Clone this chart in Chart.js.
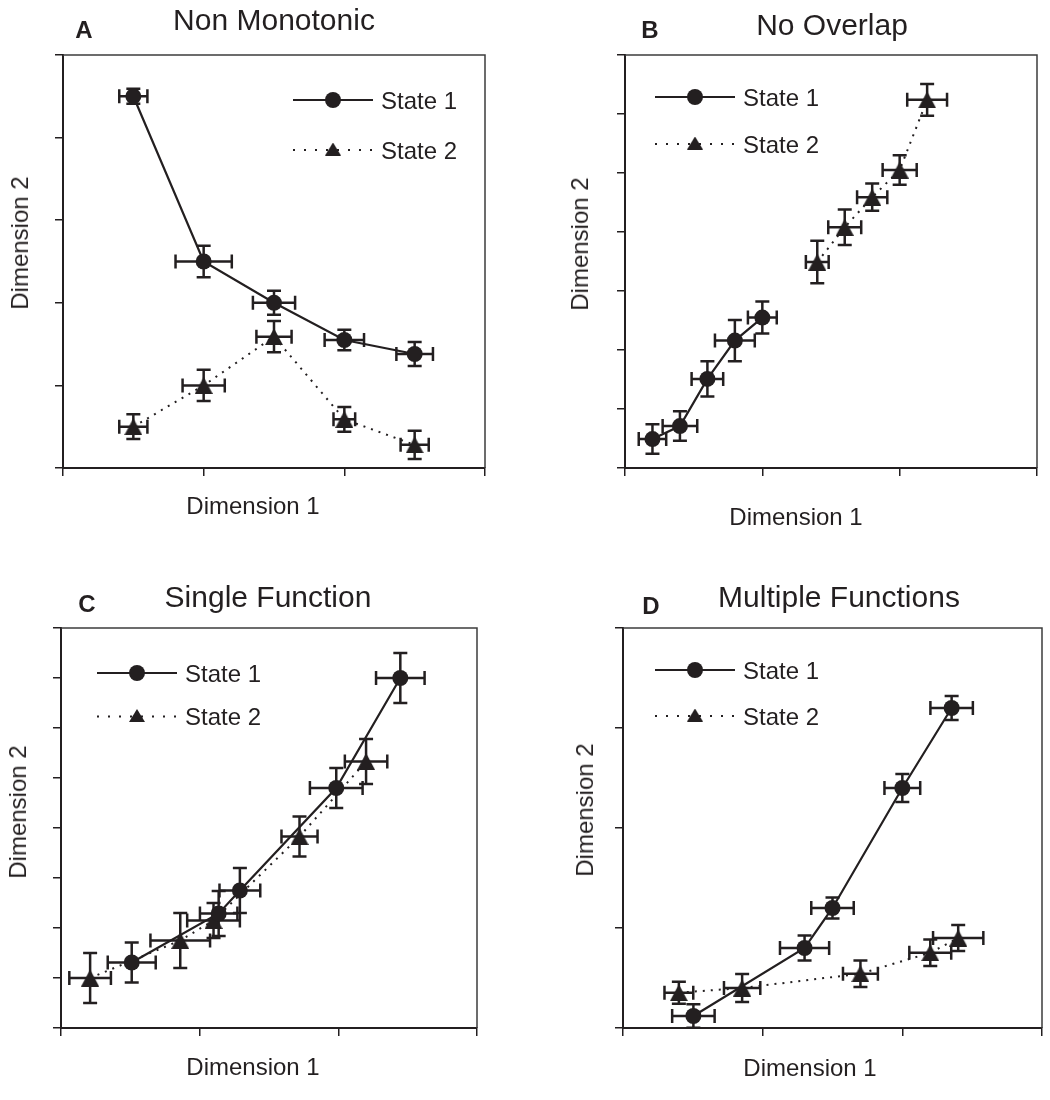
<!DOCTYPE html>
<html>
<head>
<meta charset="utf-8">
<script src="https://cdn.jsdelivr.net/npm/chart.js@4.4.0/dist/chart.umd.min.js"></script>
<style>
  body { margin: 0; background: #fff; width: 1050px; height: 1100px; position: relative; overflow: hidden;
         font-family: "Liberation Sans", Arial, sans-serif; color: #231f20; }
  .panel { position: absolute; width: 525px; height: 550px; }
  .txt { position: absolute; line-height: 1; white-space: nowrap; transform: translate(-50%, -50%); }
  .title { font-size: 30px; }
  .letter { font-size: 24px; font-weight: bold; }
  .axis { font-size: 24px; }
  .rot { transform: translate(-50%, -50%) rotate(-90deg); }
</style>
</head>
<body>
<div class="panel" style="left:0;top:0"><canvas id="chartA" width="525" height="550"></canvas></div>
<div class="panel" style="left:525px;top:0"><canvas id="chartB" width="525" height="550"></canvas></div>
<div class="panel" style="left:0;top:550px"><canvas id="chartC" width="525" height="550"></canvas></div>
<div class="panel" style="left:525px;top:550px"><canvas id="chartD" width="525" height="550"></canvas></div>

<div class="txt letter" style="left:84px;top:30px">A</div>
<div class="txt title" style="left:274px;top:20px">Non Monotonic</div>
<div class="txt letter" style="left:650px;top:30px">B</div>
<div class="txt title" style="left:832px;top:25px">No Overlap</div>
<div class="txt letter" style="left:87px;top:604px">C</div>
<div class="txt title" style="left:268px;top:597px">Single Function</div>
<div class="txt letter" style="left:651px;top:606px">D</div>
<div class="txt title" style="left:839px;top:597px">Multiple Functions</div>

<div class="txt axis" style="left:253px;top:506px">Dimension 1</div>
<div class="txt axis" style="left:796px;top:517px">Dimension 1</div>
<div class="txt axis" style="left:253px;top:1067px">Dimension 1</div>
<div class="txt axis" style="left:810px;top:1068px">Dimension 1</div>
<div class="txt axis rot" style="left:20px;top:243px">Dimension 2</div>
<div class="txt axis rot" style="left:580px;top:244px">Dimension 2</div>
<div class="txt axis rot" style="left:18px;top:812px">Dimension 2</div>
<div class="txt axis rot" style="left:585px;top:810px">Dimension 2</div>

<script>
// ---- data (axis units: x 0-3, y 0-ymax) ----
const seriesNames = ["State 1", "State 2"];

// A  Non Monotonic
const aState1X    = [0.5, 1.0, 1.5, 2.0, 2.5];
const aState1Y    = [4.5, 2.5, 2.0, 1.55, 1.38];
const aState1XErr = [0.10, 0.20, 0.15, 0.14, 0.13];
const aState1YErr = [0.09, 0.19, 0.145, 0.125, 0.145];
const aState2X    = [0.5, 1.0, 1.5, 2.0, 2.5];
const aState2Y    = [0.5, 1.0, 1.59, 0.59, 0.28];
const aState2XErr = [0.10, 0.15, 0.125, 0.077, 0.10];
const aState2YErr = [0.15, 0.19, 0.19, 0.15, 0.17];

// B  No Overlap
const bState1X    = [0.2, 0.4, 0.6, 0.8, 1.0];
const bState1Y    = [0.49, 0.71, 1.51, 2.16, 2.55];
const bState1XErr = [0.10, 0.126, 0.115, 0.145, 0.105];
const bState1YErr = [0.25, 0.25, 0.30, 0.35, 0.27];
const bState2X    = [1.4, 1.6, 1.8, 2.0, 2.2];
const bState2Y    = [3.49, 4.08, 4.59, 5.05, 6.24];
const bState2XErr = [0.083, 0.12, 0.11, 0.124, 0.145];
const bState2YErr = [0.36, 0.30, 0.23, 0.25, 0.27];

// C  Single Function
const cState1X    = [0.51, 1.137, 1.29, 1.985, 2.447];
const cState1Y    = [1.31, 2.29, 2.75, 4.8, 7.0];
const cState1XErr = [0.173, 0.135, 0.147, 0.19, 0.175];
const cState1YErr = [0.40, 0.45, 0.45, 0.40, 0.50];
const cState2X    = [0.21, 0.86, 1.10, 1.72, 2.2];
const cState2Y    = [1.0, 1.75, 2.15, 3.83, 5.33];
const cState2XErr = [0.15, 0.215, 0.19, 0.13, 0.153];
const cState2YErr = [0.5, 0.55, 0.35, 0.40, 0.45];

// D  Multiple Functions
const dState1X    = [0.504, 1.30, 1.50, 2.0, 2.353];
const dState1Y    = [0.12, 0.80, 1.20, 2.4, 3.2];
const dState1XErr = [0.152, 0.176, 0.152, 0.128, 0.152];
const dState1YErr = [0.117, 0.125, 0.105, 0.14, 0.12];
const dState2X    = [0.40, 0.853, 1.70, 2.2, 2.4];
const dState2Y    = [0.353, 0.40, 0.543, 0.753, 0.9];
const dState2XErr = [0.103, 0.13, 0.125, 0.15, 0.18];
const dState2YErr = [0.11, 0.14, 0.133, 0.133, 0.13];

const xMax = 3;
const yMax = { A: 5, B: 7, C: 8, D: 4 };

const INK = '#231f20';

function makeTriangle(w, h) {
  const c = document.createElement('canvas');
  c.width = w; c.height = h;
  const g = c.getContext('2d');
  g.fillStyle = INK;
  g.beginPath();
  g.moveTo(w / 2, 0);
  g.lineTo(w, h);
  g.lineTo(0, h);
  g.closePath();
  g.fill();
  return c;
}
const triMark = makeTriangle(18, 17);
const triLegend = makeTriangle(16, 13);

function points(xs, ys, exs, eys) {
  return xs.map((x, i) => ({ x: x, y: ys[i], xErr: exs[i], yErr: eys[i] }));
}

// error bars drawn through the chart scales
const errorBars = {
  id: 'errorBars',
  beforeDatasetsDraw(chart) {
    const ctx = chart.ctx, xs = chart.scales.x, ys = chart.scales.y;
    const cap = 7;
    ctx.save();
    ctx.strokeStyle = INK;
    ctx.lineWidth = 2.5;
    chart.data.datasets.forEach(ds => {
      ds.data.forEach(p => {
        const px = xs.getPixelForValue(p.x), py = ys.getPixelForValue(p.y);
        const x0 = xs.getPixelForValue(p.x - p.xErr), x1 = xs.getPixelForValue(p.x + p.xErr);
        const y0 = ys.getPixelForValue(p.y - p.yErr), y1 = ys.getPixelForValue(p.y + p.yErr);
        ctx.beginPath();
        ctx.moveTo(x0, py); ctx.lineTo(x1, py);
        ctx.moveTo(x0, py - cap); ctx.lineTo(x0, py + cap);
        ctx.moveTo(x1, py - cap); ctx.lineTo(x1, py + cap);
        ctx.moveTo(px, y0); ctx.lineTo(px, y1);
        ctx.moveTo(px - cap, y0); ctx.lineTo(px + cap, y0);
        ctx.moveTo(px - cap, y1); ctx.lineTo(px + cap, y1);
        ctx.stroke();
      });
    });
    ctx.restore();
  }
};

// top and right frame lines
const frame = {
  id: 'frame',
  afterDraw(chart) {
    const a = chart.chartArea, ctx = chart.ctx;
    ctx.save();
    ctx.strokeStyle = '#3c3c3c';
    ctx.lineWidth = 1.5;
    ctx.beginPath();
    ctx.moveTo(a.left, a.top); ctx.lineTo(a.right, a.top); ctx.lineTo(a.right, a.bottom);
    ctx.stroke();
    ctx.restore();
  }
};

// legend inside the plot
const innerLegend = {
  id: 'innerLegend',
  afterDraw(chart, args, opts) {
    const a = chart.chartArea, ctx = chart.ctx;
    ctx.save();
    chart.data.datasets.forEach((ds, i) => {
      const x0 = a.left + opts.left, y = a.top + opts.top + i * opts.gap;
      ctx.strokeStyle = INK;
      ctx.lineWidth = 2.2;
      ctx.setLineDash(ds.borderDash ? [2, 9] : []);
      ctx.beginPath(); ctx.moveTo(x0, y); ctx.lineTo(x0 + 80, y); ctx.stroke();
      ctx.setLineDash([]);
      ctx.fillStyle = INK;
      if (ds.pointStyle === 'circle') {
        ctx.beginPath(); ctx.arc(x0 + 40, y, 8, 0, Math.PI * 2); ctx.fill();
      } else {
        ctx.drawImage(triLegend, x0 + 40 - triLegend.width / 2, y - triLegend.height / 2 - 1);
      }
      ctx.font = '24px "Liberation Sans", Arial, sans-serif';
      ctx.textBaseline = 'middle';
      ctx.fillText(ds.label, x0 + 88, y + 2);
    });
    ctx.restore();
  }
};

function makeChart(id, s1, s2, ymax, box, leg) {
  const axisCommon = {
    type: 'linear',
    ticks: { display: false, stepSize: 1 },
    grid: { drawOnChartArea: false, drawTicks: true, tickLength: 8, color: INK, lineWidth: 1.5 },
    border: { display: true, color: INK, width: 2 }
  };
  return new Chart(document.getElementById(id), {
    type: 'scatter',
    data: {
      datasets: [{
        label: seriesNames[0],
        data: s1,
        showLine: true,
        borderColor: INK,
        backgroundColor: INK,
        borderWidth: 2.2,
        pointStyle: 'circle',
        pointRadius: 8,
        pointBorderWidth: 0
      }, {
        label: seriesNames[1],
        data: s2,
        showLine: true,
        borderColor: INK,
        backgroundColor: INK,
        borderWidth: 2,
        borderDash: [2, 6],
        pointStyle: triMark,
        pointRadius: 8,
        pointBorderWidth: 0
      }]
    },
    options: {
      responsive: false,
      animation: false,
      events: [],
      layout: { padding: { left: 0, top: box.top, right: box.right, bottom: 0 } },
      plugins: {
        legend: { display: false },
        tooltip: { enabled: false },
        innerLegend: leg
      },
      scales: {
        x: Object.assign({}, axisCommon, { min: 0, max: xMax,
          afterFit: s => { s.height = box.xAxisH; } }),
        y: Object.assign({}, axisCommon, { min: 0, max: ymax,
          afterFit: s => { s.width = box.yAxisW; } })
      }
    },
    plugins: [errorBars, frame, innerLegend]
  });
}

makeChart('chartA',
  points(aState1X, aState1Y, aState1XErr, aState1YErr),
  points(aState2X, aState2Y, aState2XErr, aState2YErr),
  yMax.A, { top: 55, right: 40, yAxisW: 63, xAxisH: 82 }, { left: 230, top: 45, gap: 50 });

makeChart('chartB',
  points(bState1X, bState1Y, bState1XErr, bState1YErr),
  points(bState2X, bState2Y, bState2XErr, bState2YErr),
  yMax.B, { top: 55, right: 13, yAxisW: 100, xAxisH: 82 }, { left: 30, top: 42, gap: 47 });

makeChart('chartC',
  points(cState1X, cState1Y, cState1XErr, cState1YErr),
  points(cState2X, cState2Y, cState2XErr, cState2YErr),
  yMax.C, { top: 78, right: 48, yAxisW: 61, xAxisH: 72 }, { left: 36, top: 45, gap: 43.5 });

makeChart('chartD',
  points(dState1X, dState1Y, dState1XErr, dState1YErr),
  points(dState2X, dState2Y, dState2XErr, dState2YErr),
  yMax.D, { top: 78, right: 7, yAxisW: 98, xAxisH: 72 }, { left: 32, top: 42, gap: 46 });
</script>
</body>
</html>
